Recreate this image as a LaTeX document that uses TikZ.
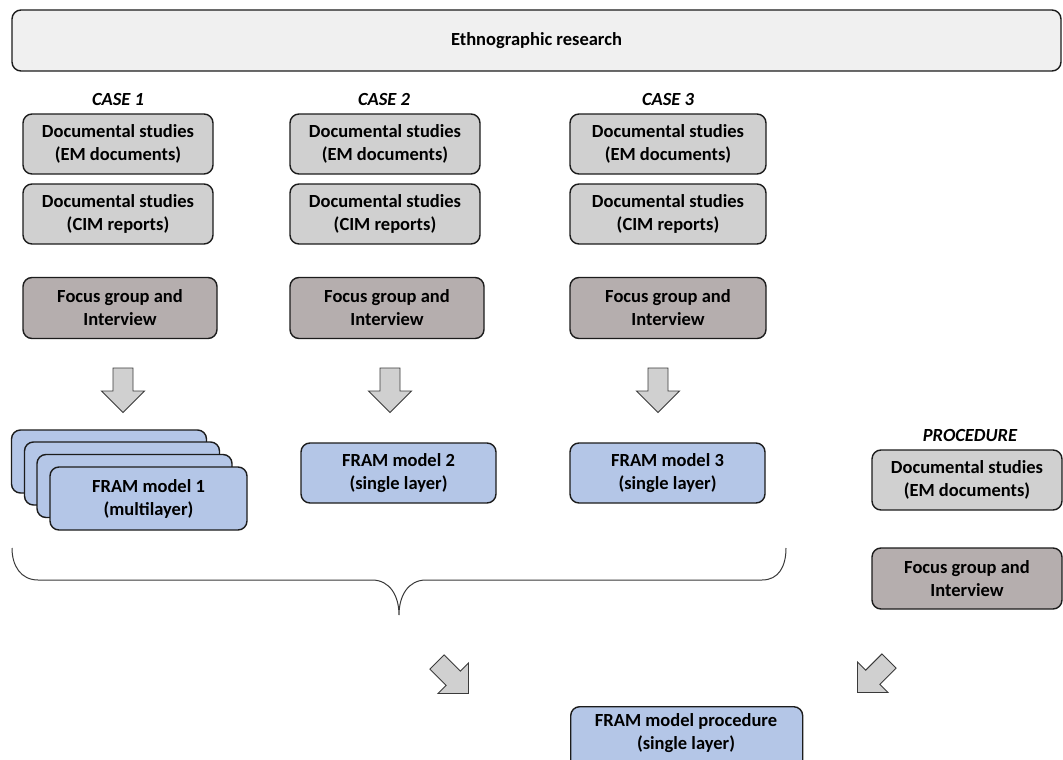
\documentclass[tikz,border=0pt]{standalone}
\usepackage{fontspec}
\setmainfont{Carlito}
\definecolor{topfill}{HTML}{F0F0F0}
\definecolor{lgfill}{HTML}{D0D0D0}
\definecolor{dgfill}{HTML}{B5AEAE}
\definecolor{bluefill}{HTML}{B4C6E7}
\definecolor{edge}{HTML}{1C1C1C}
\definecolor{arrowedge}{HTML}{3A3A3A}
\tikzset{
  boxfont/.style={font=\bfseries\fontsize{18.5}{23}\selectfont},
  basebox/.style={draw=edge, line width=1.4pt, rounded corners=9pt, align=center,
    boxfont, inner sep=0pt},
  topbox/.style={basebox, fill=topfill},
  lgbox/.style={basebox, fill=lgfill},
  dgbox/.style={basebox, fill=dgfill},
  bluebox/.style={basebox, fill=bluefill},
  caselabel/.style={font=\bfseries\itshape\fontsize{18.5}{22}\selectfont},
  arrowfill/.style={draw=arrowedge, line width=0.9pt, fill=lgfill, line join=miter},
  blockarrow/.pic={\draw[arrowfill] (-10,0) -- (10,0) -- (10,23) -- (21.5,23) -- (0,44.5) -- (-21.5,23) -- (-10,23) -- cycle;},
  bracestyle/.style={draw=arrowedge, line width=1pt}
}
\begin{document}
\begin{tikzpicture}[x=1pt,y=-1pt]
\clip (0,0) rectangle (1063,760);
\fill[white] (0,0) rectangle (1063,760);

% top box
\node[topbox, minimum width=1049, minimum height=61] (eth) at (536.5,40.5) {Ethnographic research};

% case labels
\node[caselabel] (case1) at (118,99) {CASE 1};
\node[caselabel] (case2) at (384,99) {CASE 2};
\node[caselabel] (case3) at (668,99) {CASE 3};
\node[caselabel] (proc) at (970,435) {PROCEDURE};

% case 1
\node[lgbox, minimum width=190, minimum height=60] (c1em) at (118,144) {Documental studies\\(EM documents)};
\node[lgbox, minimum width=190, minimum height=60] (c1cim) at (118,214) {Documental studies\\(CIM reports)};
\node[dgbox, minimum width=194, minimum height=61] (c1fg) at (120,308) {Focus group and\\Interview};
% case 2
\node[lgbox, minimum width=190, minimum height=60] (c2em) at (385,144) {Documental studies\\(EM documents)};
\node[lgbox, minimum width=190, minimum height=60] (c2cim) at (385,214) {Documental studies\\(CIM reports)};
\node[dgbox, minimum width=194, minimum height=61] (c2fg) at (387,308) {Focus group and\\Interview};
% case 3
\node[lgbox, minimum width=196, minimum height=60] (c3em) at (668,144) {Documental studies\\(EM documents)};
\node[lgbox, minimum width=196, minimum height=60] (c3cim) at (668,214) {Documental studies\\(CIM reports)};
\node[dgbox, minimum width=196, minimum height=61] (c3fg) at (668,308) {Focus group and\\Interview};

% down arrows
\pic at (123,368) {blockarrow};
\pic at (390,368) {blockarrow};
\pic at (658,368) {blockarrow};

% FRAM model 1 stack
\node[bluebox, minimum width=195, minimum height=63] (f1a) at (109,461.5) {};
\node[bluebox, minimum width=195, minimum height=63] (f1b) at (122,473.5) {};
\node[bluebox, minimum width=195, minimum height=63] (f1c) at (134.5,486) {};
\node[bluebox, minimum width=197, minimum height=63] (f1) at (148.5,498.5) {FRAM model 1\\(multilayer)};

\node[bluebox, minimum width=195, minimum height=60] (f2) at (398.5,473) {FRAM model 2\\(single layer)};
\node[bluebox, minimum width=195, minimum height=60] (f3) at (667.5,473) {FRAM model 3\\(single layer)};

% procedure
\node[lgbox, minimum width=190, minimum height=60] (pem) at (967,480) {Documental studies\\(EM documents)};
\node[dgbox, minimum width=190, minimum height=61] (pfg) at (967,578.5) {Focus group and\\Interview};

% brace
\coordinate (bl) at (12,548);
\coordinate (btip) at (399,615);
\coordinate (br) at (786,548);
\draw[bracestyle] (bl) .. controls (12,566) and (21,580) .. (38,580) -- (372,580)
  .. controls (390,580) and (399,596) .. (btip)
  .. controls (399,596) and (408,580) .. (426,580) -- (762,580)
  .. controls (779,580) and (786,566) .. (br);

% diagonal arrows
\pic[rotate=45] at (437,662) {blockarrow};
\pic[rotate=-45] at (889,661) {blockarrow};

% final
\node[bluebox, anchor=north west, minimum width=232, minimum height=64] (fp) at (570,706) {};
\node[boxfont, align=center, inner sep=0pt] (fptext) at (686,733) {FRAM model procedure\\(single layer)};
\end{tikzpicture}
\end{document}
